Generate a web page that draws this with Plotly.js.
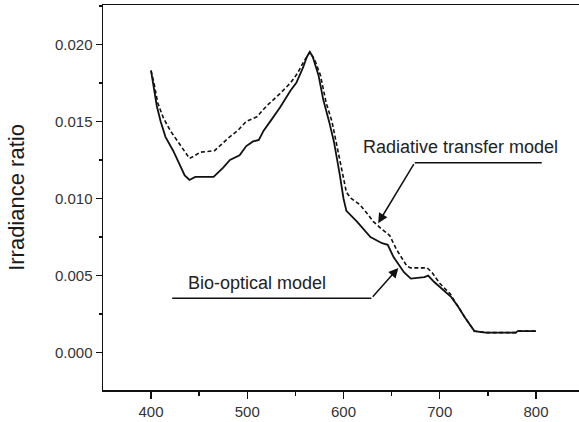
<!DOCTYPE html>
<html>
<head>
<meta charset="utf-8">
<script src="https://cdn.plot.ly/plotly-3.0.1.min.js"></script>
<style>
  html, body { margin: 0; padding: 0; background: #fff; }
  #chart { width: 579px; height: 422px; }
</style>
</head>
<body>
<div id="chart"></div>
<script>
// Bio-optical model: irradiance ratio vs wavelength (nm)
const bioWavelength = [400, 403, 406, 410, 415, 423, 430, 435, 440, 446, 465, 475, 482, 492, 499, 506, 512, 517, 525, 534, 545, 551, 558, 562, 565, 568, 574, 579, 585, 590, 596, 600, 603, 614, 628, 640, 646, 652, 663, 670, 684, 688, 694, 703, 712, 719, 726, 736, 748, 779, 781, 800];
const bioRatio = [0.0183, 0.0172, 0.0160, 0.0150, 0.0140, 0.0131, 0.0122, 0.0115, 0.0112, 0.0114, 0.0114, 0.0120, 0.0125, 0.0128, 0.0134, 0.0137, 0.0138, 0.0144, 0.0151, 0.0159, 0.0170, 0.0175, 0.0185, 0.0192, 0.0195, 0.0192, 0.0180, 0.0164, 0.0150, 0.0137, 0.0116, 0.0100, 0.0092, 0.0085, 0.0075, 0.0071, 0.0070, 0.0062, 0.0052, 0.0048, 0.0049, 0.0050, 0.0046, 0.0041, 0.0036, 0.0030, 0.0023, 0.0014, 0.0013, 0.0013, 0.0014, 0.0014];

// Radiative transfer model: irradiance ratio vs wavelength (nm)
const rtWavelength = [400, 403, 407, 413, 420, 430, 440, 446, 451, 466, 473, 480, 490, 499, 510, 520, 534, 545, 552, 558, 565, 570, 576, 582, 588, 593, 598, 603, 608, 617, 625, 631, 640, 648, 655, 662, 666, 670, 687, 692, 700, 711, 719, 726, 736, 748, 779, 781, 800];
const rtRatio = [0.0183, 0.0175, 0.0162, 0.0152, 0.0144, 0.0135, 0.0126, 0.0128, 0.0130, 0.0131, 0.0135, 0.0139, 0.0144, 0.0150, 0.0153, 0.0160, 0.0168, 0.0175, 0.0181, 0.0188, 0.0195, 0.0190, 0.0180, 0.0162, 0.0150, 0.0134, 0.0118, 0.0104, 0.0100, 0.0096, 0.0090, 0.0085, 0.0080, 0.0076, 0.0067, 0.0060, 0.0056, 0.0055, 0.0055, 0.0052, 0.0045, 0.0038, 0.0030, 0.0023, 0.0014, 0.0013, 0.0013, 0.0014, 0.0014];

// Axis ticks
const xTickValues = [400, 500, 600, 700, 800];
const yTickValues = [0.000, 0.005, 0.010, 0.015, 0.020];
const yTickLabels = ['0.000', '0.005', '0.010', '0.015', '0.020'];

// Callout labels: text centre, horizontal leader (x0..x1 at y), arrow from the
// leader's tail end to the tip on the curve
const rtCallout = { text: 'Radiative transfer model', tx: 722, ty: 0.01334, x0: 674, x1: 806, y: 0.01232, tailX: 674, tipX: 636, tipY: 0.0084 };
const bioCallout = { text: 'Bio-optical model', tx: 510, ty: 0.00452, x0: 422, x1: 629, y: 0.00353, tailX: 629, tipX: 657, tipY: 0.0055 };

const FONT = 'Liberation Sans, Arial, Helvetica, sans-serif';

const traces = [
  {
    x: rtWavelength, y: rtRatio, type: 'scatter', mode: 'lines',
    name: 'Radiative transfer model',
    line: { color: '#111', width: 1.6, dash: '4px,2.5px' }
  },
  {
    x: bioWavelength, y: bioRatio, type: 'scatter', mode: 'lines',
    name: 'Bio-optical model',
    line: { color: '#111', width: 1.8 }
  }
];

function callout(c) {
  return [
    { x: c.tx, y: c.ty, xref: 'x', yref: 'y', text: c.text, showarrow: false,
      font: { family: FONT, size: 18, color: '#222' }, xanchor: 'center', yanchor: 'middle' },
    { x: c.tipX, y: c.tipY, ax: c.tailX, ay: c.y, xref: 'x', yref: 'y', axref: 'x', ayref: 'y',
      text: '', showarrow: true, arrowhead: 2, arrowsize: 1.3, arrowwidth: 1.5, arrowcolor: '#111' }
  ];
}

function leader(c) {
  return { type: 'line', xref: 'x', yref: 'y', x0: c.x0, x1: c.x1, y0: c.y, y1: c.y,
    line: { color: '#111', width: 1.5 } };
}

const layout = {
  width: 579, height: 422,
  margin: { l: 103, r: 0, t: 5, b: 32 },
  paper_bgcolor: '#fff', plot_bgcolor: '#fff',
  showlegend: false,
  font: { family: FONT, color: '#222' },
  xaxis: {
    range: [350.1, 844.7],
    tickvals: xTickValues,
    ticks: 'outside', ticklen: 7, tickwidth: 1.5, tickcolor: '#111',
    minor: { dtick: 50, tick0: 0, ticks: 'outside', ticklen: 4, tickwidth: 1.5, tickcolor: '#111' },
    showline: true, linecolor: '#111', linewidth: 1.5, mirror: true,
    showgrid: false, zeroline: false,
    tickfont: { family: FONT, size: 15, color: '#333' }
  },
  yaxis: {
    range: [-0.00242, 0.02255],
    tickvals: yTickValues, ticktext: yTickLabels,
    ticks: 'outside', ticklen: 6, tickwidth: 1.5, tickcolor: '#111',
    minor: { dtick: 0.0025, tick0: 0, ticks: 'outside', ticklen: 3, tickwidth: 1.5, tickcolor: '#111' },
    showline: true, linecolor: '#111', linewidth: 1.5, mirror: false,
    showgrid: false, zeroline: false,
    tickfont: { family: FONT, size: 15, color: '#333' },
    title: { text: 'Irradiance ratio', font: { family: FONT, size: 22, color: '#1a1a1a' }, standoff: 24 }
  },
  shapes: [leader(rtCallout), leader(bioCallout)],
  annotations: [...callout(rtCallout), ...callout(bioCallout)]
};

Plotly.newPlot('chart', traces, layout, { staticPlot: true, displayModeBar: false });
</script>
</body>
</html>
